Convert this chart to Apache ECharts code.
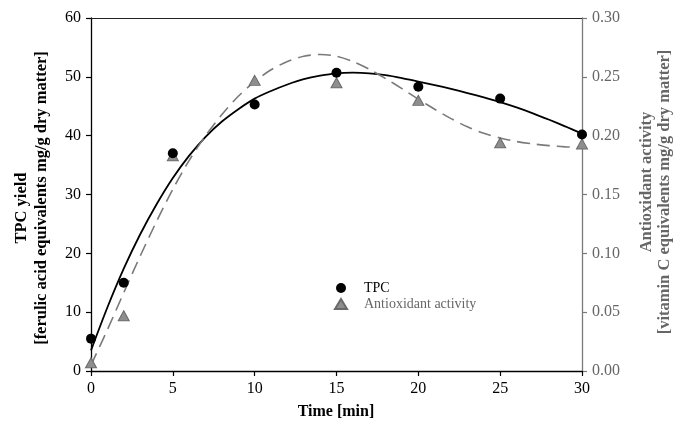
<!DOCTYPE html>
<html>
<head>
<meta charset="utf-8">
<script src="https://cdn.jsdelivr.net/npm/echarts@6/dist/echarts.min.js"></script>
<style>
  html, body { margin: 0; padding: 0; background: #ffffff; }
  #chart { width: 673px; height: 422px; }
</style>
</head>
<body>
<div id="chart"></div>
<script>
// Extraction time points [min]
const timePoints = [0, 2, 5, 10, 15, 20, 25, 30];
// Total phenolic content [mg ferulic acid eq. / g dry matter]
const tpcValues = [5.5, 15.0, 37.0, 45.3, 50.7, 48.3, 46.3, 40.2];
// Antioxidant activity [mg vitamin C eq. / g dry matter]
const antioxValues = [0.007, 0.047, 0.183, 0.247, 0.245, 0.230, 0.194, 0.193];

// Fitted trend curves, sampled every minute
const fitTime = [0, 1, 2, 3, 4, 5, 6, 7, 8, 9, 10, 11, 12, 13, 14, 15,
                 16, 17, 18, 19, 20, 21, 22, 23, 24, 25, 26, 27, 28, 29, 30];
const tpcFit = [3.5, 10.8, 17.4, 23.2, 28.3, 32.8, 36.6, 39.8, 42.4, 44.5, 46.3,
                47.6, 48.7, 49.6, 50.2, 50.6, 50.7, 50.6, 50.3, 49.8, 49.2,
                48.6, 47.95, 47.25, 46.5, 45.7, 44.8, 43.8, 42.7, 41.55, 40.35];
const antioxFit = [0.005, 0.035, 0.0665, 0.0975, 0.127, 0.1545, 0.179, 0.200, 0.218,
                   0.2335, 0.246, 0.256, 0.263, 0.2675, 0.269, 0.2675, 0.263,
                   0.2565, 0.2485, 0.240, 0.231, 0.2225, 0.2145, 0.2075, 0.202,
                   0.198, 0.195, 0.193, 0.1915, 0.1905, 0.190];

// Axis scales
const xTicks = { min: 0, max: 30, step: 5 };
const leftTicks = { min: 0, max: 60, step: 10 };
const rightTicks = { min: 0, max: 0.30, step: 0.05 };

const serif = 'Liberation Serif';
const grey = '#7a7a7a';
const greyDark = '#666666';
const titleFont = 'bold 16.5px "Liberation Serif"';

const pair = (xs, ys) => xs.map((x, i) => [x, ys[i]]);

const chart = echarts.init(document.getElementById('chart'), null, { renderer: 'canvas' });

chart.setOption({
  animation: false,
  backgroundColor: '#ffffff',
  grid: { left: 91, right: 91, top: 18, bottom: 51, containLabel: false },
  legend: {
    left: 329, top: 276, orient: 'vertical', itemGap: 2,
    itemWidth: 12, itemHeight: 10,
    textStyle: { fontFamily: serif, fontSize: 14, lineHeight: 14, padding: [0, 0, 0, 12] },
    data: [
      { name: 'TPC', icon: 'circle', textStyle: { color: '#000000' } },
      { name: 'Antioxidant activity', icon: 'triangle', textStyle: { color: greyDark } }
    ]
  },
  xAxis: [
    {
      type: 'value', position: 'bottom',
      min: xTicks.min, max: xTicks.max, interval: xTicks.step,
      axisLine: { show: true, onZero: false, lineStyle: { color: '#000', width: 1.3 } },
      axisTick: { show: true, inside: false, length: 5, lineStyle: { color: '#000', width: 1.2 } },
      axisLabel: { margin: 10, color: '#000', fontFamily: serif, fontSize: 16 },
      splitLine: { show: false }
    },
    {
      type: 'value', position: 'top',
      min: xTicks.min, max: xTicks.max,
      axisLine: { show: true, onZero: false, lineStyle: { color: '#222', width: 1.2 } },
      axisTick: { show: false }, axisLabel: { show: false }, splitLine: { show: false }
    }
  ],
  yAxis: [
    {
      type: 'value', position: 'left',
      min: leftTicks.min, max: leftTicks.max, interval: leftTicks.step,
      axisLine: { show: true, onZero: false, lineStyle: { color: '#000', width: 1.3 } },
      axisTick: { show: true, inside: false, length: 5, lineStyle: { color: '#000', width: 1.2 } },
      axisLabel: { margin: 10, color: '#000', fontFamily: serif, fontSize: 16 },
      splitLine: { show: false }
    },
    {
      type: 'value', position: 'right',
      min: rightTicks.min, max: rightTicks.max, interval: rightTicks.step,
      axisLine: { show: true, onZero: false, lineStyle: { color: grey, width: 1.3 } },
      axisTick: { show: true, inside: false, length: 5, lineStyle: { color: grey, width: 1.2 } },
      axisLabel: {
        margin: 10, color: greyDark, fontFamily: serif, fontSize: 16,
        formatter: v => v.toFixed(2)
      },
      splitLine: { show: false }
    }
  ],
  graphic: [
    {
      type: 'text', x: 22, y: 208, rotation: Math.PI / 2,
      style: { text: 'TPC yield', fill: '#000', align: 'center', verticalAlign: 'middle', font: titleFont }
    },
    {
      type: 'text', x: 42, y: 198, rotation: Math.PI / 2,
      style: {
        text: '[ferulic acid equivalents mg/g dry matter]', fill: '#000',
        align: 'center', verticalAlign: 'middle', font: titleFont
      }
    },
    {
      type: 'text', x: 647, y: 182, rotation: Math.PI / 2,
      style: { text: 'Antioxidant activity', fill: greyDark, align: 'center', verticalAlign: 'middle', font: titleFont }
    },
    {
      type: 'text', x: 665, y: 192, rotation: Math.PI / 2,
      style: {
        text: '[vitamin C equivalents mg/g dry matter]', fill: greyDark,
        align: 'center', verticalAlign: 'middle', font: titleFont
      }
    },
    {
      type: 'text', x: 336, y: 412,
      style: { text: 'Time [min]', fill: '#000', align: 'center', verticalAlign: 'middle', font: 'bold 16px "Liberation Serif"' }
    }
  ],
  series: [
    {
      name: 'TPC fit', type: 'line', xAxisIndex: 0, yAxisIndex: 0,
      data: pair(fitTime, tpcFit), smooth: 0.3, showSymbol: false, silent: true,
      lineStyle: { color: '#000', width: 1.8 }, z: 2
    },
    {
      name: 'Antioxidant fit', type: 'line', xAxisIndex: 0, yAxisIndex: 1,
      data: pair(fitTime, antioxFit), smooth: 0.3, showSymbol: false, silent: true,
      lineStyle: { color: grey, width: 1.6, type: [13, 7] }, z: 2
    },
    {
      name: 'Antioxidant activity', type: 'scatter', xAxisIndex: 0, yAxisIndex: 1,
      data: pair(timePoints, antioxValues), symbol: 'triangle', symbolSize: [11, 10],
      itemStyle: { color: '#8e8e8e', borderColor: '#6a6a6a', borderWidth: 1, opacity: 1 }, z: 3
    },
    {
      name: 'TPC', type: 'scatter', xAxisIndex: 0, yAxisIndex: 0,
      data: pair(timePoints, tpcValues), symbol: 'circle', symbolSize: 10,
      itemStyle: { color: '#000', opacity: 1 }, z: 4
    }
  ]
});
</script>
</body>
</html>
